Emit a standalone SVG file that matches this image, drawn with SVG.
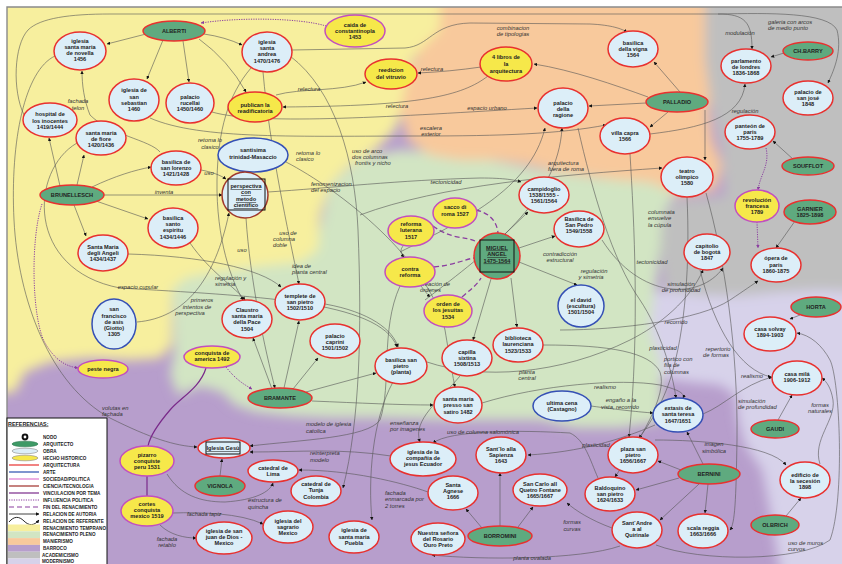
<svg xmlns="http://www.w3.org/2000/svg" width="842" height="564" viewBox="0 0 842 564">
<style>
.arq ellipse,.arq circle{fill:#5FAA7F;stroke:#E8312F;stroke-width:1.5}
.obra ellipse{fill:#DCEEF8;stroke:#E8312F;stroke-width:1.5}
.arte ellipse{fill:#DCEEF8;stroke:#3550B5;stroke-width:1.5}
.hecho ellipse{fill:#F6E84A;stroke:#C24FBE;stroke-width:1.5}
.hechor ellipse{fill:#F6E84A;stroke:#E8312F;stroke-width:1.5}
.cien circle{fill:#DCEEF8;stroke:#A0392B;stroke-width:1.5}
text{font-family:"Liberation Sans",Arial,sans-serif}
.n text{font-size:5.6px;font-weight:bold;text-anchor:middle;fill:#222}
.u{text-decoration:underline}
.c{fill:none;stroke:#555;stroke-width:0.6}
.pd{fill:none;stroke:#8B3FA0;stroke-width:1;stroke-dasharray:1.2 1.2}
.pdash{fill:none;stroke:#8B3FA0;stroke-width:1.3;stroke-dasharray:5 3}
.pv{fill:none;stroke:#7A2A8A;stroke-width:1.2}
.l{font-size:5.8px;font-style:italic;fill:#333}
.m{text-anchor:middle}
.lg{font-size:4.6px;font-weight:bold;fill:#222}
</style>
<defs>
<marker id="ar" viewBox="0 0 6 6" refX="5.5" refY="3" markerWidth="3.5" markerHeight="3.5" markerUnits="userSpaceOnUse" orient="auto"><path d="M0,0 L6,3 L0,6 z" fill="#111"/></marker>
<marker id="ap" viewBox="0 0 6 6" refX="5.5" refY="3" markerWidth="3.5" markerHeight="3.5" markerUnits="userSpaceOnUse" orient="auto"><path d="M0,0 L6,3 L0,6 z" fill="#8B3FA0"/></marker>
<filter id="bl" x="-20" y="-20" width="900" height="620" filterUnits="userSpaceOnUse"><feGaussianBlur stdDeviation="6"/></filter>
<clipPath id="fr"><rect x="7" y="7" width="835" height="557"/></clipPath>
</defs>
<rect width="842" height="564" fill="#fff"/>
<g id="background" clip-path="url(#fr)">
<rect x="7" y="7" width="835" height="557" fill="#B79ECC"/>
<g filter="url(#bl)">
<path fill="#D7D2EA" d="M630,292 L870,285 L870,600 L785,600 L775,540 L768,500 L762,470 L745,445 L738,420 L735,395 L720,385 L690,382 L660,378 L640,360 Z"/>
<path fill="#D2E5C3" d="M172,280 L215,270 L262,264 L305,258 L320,230 L330,185 L360,158 L400,150 L440,152 L490,160 L540,170 L600,178 L640,180 L660,175 L680,190 L665,210 L660,250 L655,290 L650,330 L660,360 L662,400 L660,422 L620,428 L575,428 L540,420 L460,420 L380,418 L330,418 L290,416 L255,412 L235,405 L222,392 L200,386 L178,395 L170,375 L175,350 Z"/>
<path fill="#F7EF9E" d="M-20,-20 L455,-20 L452,20 L430,40 L412,60 L405,100 L395,130 L375,150 L350,165 L330,185 L320,215 L318,250 L300,262 L260,266 L215,272 L185,278 L172,290 L172,345 L160,358 L130,360 L90,358 L50,362 L25,372 L15,392 L-20,395 Z"/>
<path fill="#F8C99C" d="M440,-20 L720,-20 L712,20 L705,50 L715,80 L708,110 L712,140 L722,165 L715,190 L680,195 L650,182 L620,180 L590,176 L560,172 L530,165 L495,160 L460,160 L430,155 L408,140 L400,110 L408,75 L420,50 L440,30 Z"/>
<path fill="#BFBFBF" d="M705,-20 L870,-20 L870,292 L820,290 L780,292 L740,296 L700,295 L665,290 L660,250 L662,215 L678,200 L725,196 L722,150 L712,110 L705,60 Z"/>
</g>
</g>
<path d="M7,564 L7,7 L842,7" fill="none" stroke="#8a8a8a" stroke-width="1.4"/>

<g id="connectors">
<path class="c" marker-end="url(#ar)" d="M146,34 L107,44"/>
<path class="c" marker-end="url(#ar)" d="M163,40 L147,79"/>
<path class="c" marker-end="url(#ar)" d="M183,41 L189,82"/>
<path class="c" marker-end="url(#ar)" d="M204,34 Q225,37 242,45"/>
<path class="c" marker-end="url(#ar)" d="M199,39 Q228,60 246,92"/>
<path class="pd" marker-end="url(#ap)" d="M326,26 C300,18 240,17 201,23"/>
<path class="c" marker-end="url(#ar)" d="M24,115 C12,90 14,45 28,30 C40,18 70,14 110,14 L718,14 C745,14 752,22 752,49"/>
<path class="c" marker-end="url(#ar)" d="M718,14 C770,13 828,12 837,30 C842,50 835,68 828,83"/>
<path class="c" marker-end="url(#ar)" d="M55,56 C25,70 10,140 14,220 C18,300 50,385 110,418 C150,438 175,446 197,447"/>
<path class="c" marker-end="url(#ar)" d="M488,76 C462,96 420,106 283,107"/>
<path class="c" marker-end="url(#ar)" d="M276,95 C300,88 340,92 366,82"/>
<path class="c" marker-end="url(#ar)" d="M481,67 C460,70 440,72 418,73"/>
<path class="c" marker-end="url(#ar)" d="M292,50 L405,48 C430,46 432,24 470,23 L590,24 C612,25 622,29 627,32"/>
<path class="c" marker-end="url(#ar)" d="M648,97 C615,85 572,70 534,64"/>
<path class="c" marker-end="url(#ar)" d="M646,103 L589,106"/>
<path class="c" marker-end="url(#ar)" d="M680,92 L654,62"/>
<path class="c" marker-end="url(#ar)" d="M668,112 L650,127"/>
<path class="c" marker-end="url(#ar)" d="M705,110 L705,160"/>
<path class="c" marker-end="url(#ar)" d="M650,134 C700,128 742,118 745,84"/>
<path class="c" marker-end="url(#ar)" d="M784,53 L771,57"/>
<path class="c" marker-end="url(#ar)" d="M794,160 L773,141"/>
<path class="pd" marker-end="url(#ap)" d="M766,148 C770,165 760,175 758,190"/>
<path class="pd" marker-end="url(#ap)" d="M757,222 L758,248"/>
<path class="c" marker-end="url(#ar)" d="M795,221 L776,248"/>
<path class="c" marker-end="url(#ar)" d="M800,315 L790,319"/>
<path class="c" marker-end="url(#ar)" d="M778,420 L792,395"/>
<path class="c" marker-end="url(#ar)" d="M786,516 L801,498"/>
<path class="c" marker-end="url(#ar)" d="M703,464 L687,432"/>
<path class="c" marker-end="url(#ar)" d="M681,470 L658,461"/>
<path class="c" marker-end="url(#ar)" d="M679,478 L636,490"/>
<path class="c" marker-end="url(#ar)" d="M699,484 L660,520"/>
<path class="c" marker-end="url(#ar)" d="M708,484 L705,513"/>
<path class="c" marker-end="url(#ar)" d="M500,526 L500,473"/>
<path class="c" marker-end="url(#ar)" d="M482,528 L466,509"/>
<path class="c" marker-end="url(#ar)" d="M518,527 L533,507"/>
<path class="c" marker-end="url(#ar)" d="M505,234 L528,212"/>
<path class="c" marker-end="url(#ar)" d="M519,248 L555,236"/>
<path class="c" marker-end="url(#ar)" d="M519,262 L577,285"/>
<path class="c" marker-end="url(#ar)" d="M511,278 L517,327"/>
<path class="c" marker-end="url(#ar)" d="M491,279 L473,340"/>
<path class="pdash" d="M476,210 C490,213 497,222 498,233"/>
<path class="pdash" d="M433,226 C452,240 465,236 475,241"/>
<path class="pdash" d="M434,267 C455,265 466,259 474,258"/>
<path class="pdash" d="M462,297 C470,290 477,285 481,278"/>
<path class="c" marker-end="url(#ar)" d="M404,245 C399,250 401,254 404,257"/>
<path class="c" marker-end="url(#ar)" d="M421,286 C425,291 427,294 430,297"/>
<path class="c" marker-end="url(#ar)" d="M96,201 L148,219"/>
<path class="c" marker-end="url(#ar)" d="M74,205 L86,236"/>
<path class="c" marker-end="url(#ar)" d="M104,195 L222,195"/>
<path class="c" marker-end="url(#ar)" d="M77,185 L84,155"/>
<path class="c" marker-end="url(#ar)" d="M60,186 L49,138"/>
<path class="c" marker-end="url(#ar)" d="M92,187 C115,176 135,170 151,167"/>
<path class="pd" marker-end="url(#ap)" d="M42,204 C30,240 32,320 45,343 C55,360 65,366 78,368"/>
<path class="c" marker-end="url(#ar)" d="M201,170 C212,172 220,175 226,179"/>
<path class="c" marker-end="url(#ar)" d="M137,322 C185,318 215,280 229,213"/>
<path class="c" marker-end="url(#ar)" d="M77,143 C30,170 25,270 120,288 C250,296 380,300 397,347"/>
<path class="c" marker-end="url(#ar)" d="M128,254 C200,256 260,268 281,287"/>
<path class="c" marker-end="url(#ar)" d="M190,243 C210,272 236,288 245,300"/>
<path class="c" marker-end="url(#ar)" d="M325,304 C370,312 393,330 398,347"/>
<path class="c" marker-end="url(#ar)" d="M263,72 C270,150 288,230 299,284"/>
<path class="c" marker-end="url(#ar)" d="M251,68 C228,95 218,130 217,180 C216,240 232,282 243,300"/>
<path class="c" marker-end="url(#ar)" d="M246,218 C250,280 265,350 275,388"/>
<path class="c" marker-end="url(#ar)" d="M272,389 L253,338"/>
<path class="c" marker-end="url(#ar)" d="M284,388 L299,321"/>
<path class="c" marker-end="url(#ar)" d="M293,389 L318,358"/>
<path class="c" marker-end="url(#ar)" d="M306,392 L376,373"/>
<path class="c" marker-end="url(#ar)" d="M312,401 C360,403 400,405 433,405"/>
<path class="pd" marker-end="url(#ap)" d="M226,367 C236,380 245,385 252,389"/>
<path class="pv" d="M206,368 C200,388 180,398 170,410 C158,424 150,436 148,446"/>
<path class="pv" d="M147,476 L147,496"/>
<path class="c" marker-end="url(#ar)" d="M167,474 C180,495 200,502 225,502 C255,500 270,492 273,483"/>
<path class="c" marker-end="url(#ar)" d="M173,513 C200,512 240,513 263,524"/>
<path class="c" marker-end="url(#ar)" d="M160,525 C170,535 185,538 196,538"/>
<path class="c" marker-end="url(#ar)" d="M220,476 L222,459"/>
<path class="c" marker-end="url(#ar)" d="M391,456 C340,448 300,452 250,452"/>
<path class="c" marker-end="url(#ar)" d="M400,286 C380,330 392,385 380,420 C368,438 300,440 250,446"/>
<path class="c" marker-end="url(#ar)" d="M290,56 C335,90 355,160 358,230 C362,330 360,420 343,488"/>
<path class="c" marker-end="url(#ar)" d="M360,215 C440,185 560,175 662,168"/>
<path class="c" marker-end="url(#ar)" d="M268,192 C330,188 400,180 480,178 C505,178 515,180 521,182"/>
<path class="c" marker-end="url(#ar)" d="M400,252 C460,222 530,190 545,128"/>
<path class="c" marker-end="url(#ar)" d="M425,300 C490,250 558,200 562,128"/>
<path class="c" marker-end="url(#ar)" d="M602,240 C640,300 700,300 723,268"/>
<path class="c" marker-end="url(#ar)" d="M630,154 C634,220 640,330 629,437"/>
<path class="c" marker-end="url(#ar)" d="M687,197 C690,260 686,330 670,380 C660,410 645,430 639,438"/>
<path class="c" marker-end="url(#ar)" d="M560,330 C620,330 700,320 730,300 C745,290 752,285 758,281"/>
<path class="c" marker-end="url(#ar)" d="M598,478 C590,460 585,440 570,433 C520,430 450,430 433,443"/>
<path class="c" marker-end="url(#ar)" d="M655,425 C620,440 580,452 528,455"/>
<path class="c" marker-end="url(#ar)" d="M620,546 C580,560 480,560 432,555"/>
<path class="c" marker-end="url(#ar)" d="M612,528 C590,520 575,510 567,503"/>
<path class="c" marker-end="url(#ar)" d="M656,545 C700,562 800,562 830,540 C845,500 840,380 830,360 C822,345 810,335 797,333"/>
<path class="c" marker-end="url(#ar)" d="M820,464 C812,440 836,420 833,400 C831,388 827,382 822,378"/>
<path class="c" marker-end="url(#ar)" d="M655,440 C700,440 770,445 786,465"/>
<path class="c" marker-end="url(#ar)" d="M703,414 C725,405 742,385 772,377"/>
<path class="c" marker-end="url(#ar)" d="M482,403 C540,385 620,378 660,385 C680,390 685,394 683,398"/>
<path class="c" marker-end="url(#ar)" d="M591,406 C620,410 640,412 653,413"/>
<path class="c" marker-end="url(#ar)" d="M700,270 C715,330 740,370 771,377"/>
<path class="c" marker-end="url(#ar)" d="M706,193 C725,260 738,350 737,440 C736,500 735,524 730,530"/>
<path class="c" marker-end="url(#ar)" d="M543,345 C610,345 650,352 660,372 C668,395 640,440 615,477"/>
<path class="c" marker-end="url(#ar)" d="M460,376 C440,400 412,420 420,442"/>
<path class="c" marker-end="url(#ar)" d="M393,382 C372,420 368,480 372,520"/>
<path class="c" marker-end="url(#ar)" d="M286,162 C340,190 430,260 445,330 C450,360 453,378 455,387"/>
<path class="c" marker-end="url(#ar)" d="M428,492 C400,482 350,470 299,470"/>
<path class="c" marker-end="url(#ar)" d="M150,118 C200,140 300,136 420,136 C500,136 560,134 606,125"/>
<path class="c" marker-end="url(#ar)" d="M212,112 C260,126 400,116 537,108"/>
<path class="c" marker-end="url(#ar)" d="M160,152 C150,140 110,135 90,115 C84,100 82,85 82,71"/>
<path class="c" marker-end="url(#ar)" d="M578,128 C592,190 612,260 640,300 C660,330 672,370 676,398"/>
<path class="c" marker-end="url(#ar)" d="M427,362 C480,380 560,375 630,340 C660,325 690,300 703,270"/>
<g id="labels">
<text class="l m" x="513" y="30">combinacion</text><text class="l m" x="513" y="36">de tipologias</text>
<text class="l" x="768" y="24">galeria con arcos</text><text class="l" x="768" y="30">de medio punto</text>
<text class="l m" x="740" y="35">modulación</text>
<text class="l m" x="745" y="113">regulación</text>
<text class="l m" x="309" y="91">relectura</text>
<text class="l m" x="397" y="108">relectura</text>
<text class="l m" x="432" y="71">relectura</text>
<text class="l m" x="487" y="110">espacio urbano</text>
<text class="l m" x="431" y="130">escalera</text><text class="l m" x="431" y="136">exterior</text>
<text class="l m" x="78" y="103">fachada</text><text class="l m" x="78" y="110">telon</text>
<text class="l m" x="210" y="142">retoma lo</text><text class="l m" x="210" y="149">clasico</text>
<text class="l" x="296" y="155">retoma lo</text><text class="l" x="296" y="161">clasico</text>
<text class="l" x="352" y="153">uso de arco</text><text class="l" x="352" y="159">dos columnas</text><text class="l" x="355" y="165">frontis y nicho</text>
<text class="l" x="311" y="186">fenomenizacion</text><text class="l" x="311" y="192">del espacio</text>
<text class="l m" x="209" y="175">uso</text>
<text class="l m" x="164" y="194">inventa</text>
<text class="l m" x="446" y="184">tectonicidad</text>
<text class="l" x="548" y="165">arquitectura</text><text class="l" x="548" y="171">fuera de roma</text>
<text class="l m" x="138" y="289">espacio cupular</text>
<text class="l m" x="202" y="302">primeros</text><text class="l m" x="197" y="309">intentos de</text><text class="l m" x="190" y="315">perspectiva</text>
<text class="l m" x="288" y="235">uso de</text><text class="l m" x="284" y="241">columna</text><text class="l m" x="280" y="247">doble</text>
<text class="l m" x="242" y="252">uso</text>
<text class="l" x="292" y="268">idea de</text><text class="l" x="292" y="274">planta central</text>
<text class="l" x="215" y="280">regulación y</text><text class="l" x="215" y="286">simetria</text>
<text class="l" x="420" y="286">creación de</text><text class="l" x="420" y="292">órdenes</text>
<text class="l m" x="560" y="256">contradicción</text><text class="l m" x="560" y="262">estructural</text>
<text class="l m" x="594" y="273">regulación</text><text class="l m" x="591" y="279">y simetria</text>
<text class="l m" x="527" y="374">planta</text><text class="l m" x="527" y="380">central</text>
<text class="l" x="648" y="214">columnata</text><text class="l" x="648" y="220">envuelve</text><text class="l" x="648" y="227">la cúpula</text>
<text class="l m" x="652" y="264">tectonicidad</text>
<text class="l m" x="681" y="286">simulación</text><text class="l m" x="681" y="292">de profundidad</text>
<text class="l m" x="676" y="324">recorrido</text>
<text class="l m" x="663" y="350">plasticidad</text>
<text class="l" x="664" y="361">portico con</text><text class="l" x="664" y="367">fila de</text><text class="l" x="664" y="374">columnas</text>
<text class="l m" x="718" y="351">repertorio</text><text class="l m" x="716" y="357">de formas</text>
<text class="l m" x="752" y="378">realismo</text>
<text class="l m" x="605" y="389">realismo</text>
<text class="l m" x="621" y="402">engaño a la</text><text class="l m" x="620" y="409">vista, recorrido</text>
<text class="l" x="738" y="403">simulación</text><text class="l" x="738" y="409">de profundidad</text>
<text class="l m" x="820" y="407">formas</text><text class="l m" x="820" y="413">naturales</text>
<text class="l m" x="714" y="446">imagen</text><text class="l m" x="714" y="453">simbólica</text>
<text class="l m" x="596" y="447">plasticidad</text>
<text class="l m" x="483" y="434">uso de columna salomónica</text>
<text class="l" x="390" y="425">enseñanza</text><text class="l" x="390" y="431">por imagenes</text>
<text class="l" x="306" y="426">modelo de iglesia</text><text class="l" x="306" y="433">catolica</text>
<text class="l" x="310" y="455">reinterpreta</text><text class="l" x="310" y="462">modelo</text>
<text class="l" x="248" y="502">estructura de</text><text class="l" x="248" y="509">quincha</text>
<text class="l" x="385" y="495">fachada</text><text class="l" x="385" y="501">enmarcada por</text><text class="l" x="385" y="508">2 torres</text>
<text class="l" x="187" y="516">fachada tapiz</text>
<text class="l m" x="167" y="541">fachada</text><text class="l m" x="167" y="547">retablo</text>
<text class="l" x="102" y="410">volutas en</text><text class="l" x="102" y="416">fachada</text>
<text class="l m" x="572" y="524">formas</text><text class="l m" x="572" y="531">curvas</text>
<text class="l m" x="532" y="560">planta ovalada</text>
<text class="l" x="788" y="545">uso de muros</text><text class="l" x="788" y="551">curvos</text>
</g>
</g>

<g id="nodes">
<g id="alberti" class="n arq"><ellipse cx="174" cy="31" rx="31" ry="10"/><text x="174" y="33">ALBERTI</text></g>
<g id="brunellesch" class="n arq"><ellipse cx="72" cy="195" rx="32" ry="10"/><text x="72" y="197">BRUNELLESCH</text></g>
<g id="bramante" class="n arq"><ellipse cx="280" cy="398" rx="32" ry="10"/><text x="280" y="400">BRAMANTE</text></g>
<g id="vignola" class="n arq"><ellipse cx="220" cy="486" rx="25" ry="10"/><text x="220" y="488">VIGNOLA</text></g>
<g id="palladio" class="n arq"><ellipse cx="677" cy="102" rx="31" ry="10"/><text x="677" y="104">PALLADIO</text></g>
<g id="chbarry" class="n arq"><ellipse cx="808" cy="51" rx="25" ry="9"/><text x="808" y="53">CH.BARRY</text></g>
<g id="soufflot" class="n arq"><ellipse cx="808" cy="166" rx="26" ry="9"/><text x="808" y="168">SOUFFLOT</text></g>
<g id="garnier" class="n arq"><ellipse cx="810" cy="212" rx="26" ry="12"/><text x="810" y="210.5">GARNIER</text><text x="810" y="216.5">1825-1898</text></g>
<g id="horta" class="n arq"><ellipse cx="816" cy="307" rx="25" ry="10"/><text x="816" y="309">HORTA</text></g>
<g id="gaudi" class="n arq"><ellipse cx="775" cy="429" rx="24" ry="9"/><text x="775" y="431">GAUDI</text></g>
<g id="bernini" class="n arq"><ellipse cx="709" cy="474" rx="31" ry="10"/><text x="709" y="476">BERNINI</text></g>
<g id="olbrich" class="n arq"><ellipse cx="775" cy="525" rx="24" ry="10"/><text x="775" y="527">OLBRICH</text></g>
<g id="borromini" class="n arq"><ellipse cx="500" cy="536" rx="32" ry="10"/><text x="500" y="538">BORROMINI</text></g>
<g id="miguelangel" class="n arq"><circle cx="497" cy="256" r="23"/><rect x="480" y="240" width="34" height="32" fill="none" stroke="#111" stroke-width="1"/><text class="u" x="497" y="249.5">MIGUEL</text><text class="u" x="497" y="256">ANGEL</text><text class="u" x="497" y="262.5">1475-1564</text></g>

<g id="novella" class="n obra"><ellipse cx="80" cy="51" rx="26" ry="19"/><text x="80" y="43">iglesia</text><text x="80" y="49">santa maria</text><text x="80" y="55">de novella</text><text x="80" y="61">1456</text></g>
<g id="sansebastian" class="n obra"><ellipse cx="134" cy="100" rx="25" ry="21"/><text x="134" y="92">iglesia de</text><text x="134" y="98.5">san</text><text x="134" y="105">sebastian</text><text x="134" y="111">1460</text></g>
<g id="rucellai" class="n obra"><ellipse cx="190" cy="103" rx="24" ry="20"/><text x="190" y="99">palacio</text><text x="190" y="105">rucellai</text><text x="190" y="111">1450/1460</text></g>
<g id="hospital" class="n obra"><ellipse cx="50" cy="120" rx="27" ry="17"/><text x="50" y="116">hospital de</text><text x="50" y="122.5">los inocentes</text><text x="50" y="129">1419/1444</text></g>
<g id="fiore" class="n obra"><ellipse cx="101" cy="138" rx="25" ry="17"/><text x="101" y="135">santa maria</text><text x="101" y="141">de fiore</text><text x="101" y="147">1420/1436</text></g>
<g id="sanlorenzo" class="n obra"><ellipse cx="176" cy="168" rx="25" ry="17"/><text x="176" y="164">basilica de</text><text x="176" y="170">san lorenzo</text><text x="176" y="176">1421/1428</text></g>
<g id="santaandrea" class="n obra"><ellipse cx="267" cy="52" rx="25" ry="20"/><text x="267" y="44">iglesia</text><text x="267" y="50">santa</text><text x="267" y="56">andrea</text><text x="267" y="62.5">1470/1476</text></g>
<g id="santoespiritu" class="n obra"><ellipse cx="173" cy="228" rx="25" ry="20"/><text x="173" y="220">basilica</text><text x="173" y="226">santo</text><text x="173" y="232">espiritu</text><text x="173" y="239">1434/1446</text></g>
<g id="angeli" class="n obra"><ellipse cx="103" cy="253" rx="25" ry="18"/><text x="103" y="249">Santa Maria</text><text x="103" y="255">degli Angeli</text><text x="103" y="261">1434/1437</text></g>
<g id="vigna" class="n obra"><ellipse cx="633" cy="49" rx="25" ry="18"/><text x="633" y="45">basilica</text><text x="633" y="51">della vigna</text><text x="633" y="57">1564</text></g>
<g id="ragione" class="n obra"><ellipse cx="563" cy="108" rx="25" ry="20"/><text x="563" y="105">palacio</text><text x="563" y="111">della</text><text x="563" y="117">ragione</text></g>
<g id="villacapra" class="n obra"><ellipse cx="625" cy="136" rx="25" ry="18"/><text x="625" y="135">villa capra</text><text x="625" y="141">1566</text></g>
<g id="parlamento" class="n obra"><ellipse cx="746" cy="66" rx="25" ry="17"/><text x="746" y="63">parlamento</text><text x="746" y="69">de londres</text><text x="746" y="75">1836-1868</text></g>
<g id="sanjose" class="n obra"><ellipse cx="808" cy="98" rx="25" ry="17"/><text x="808" y="94">palacio de</text><text x="808" y="100">san josé</text><text x="808" y="106">1848</text></g>
<g id="panteon" class="n obra"><ellipse cx="750" cy="132" rx="25" ry="17"/><text x="750" y="128">panteón  de</text><text x="750" y="134">paris</text><text x="750" y="140">1755-1789</text></g>
<g id="teatro" class="n obra"><ellipse cx="687" cy="177" rx="26" ry="20"/><text x="687" y="173">teatro</text><text x="687" y="179">olimpico</text><text x="687" y="185">1580</text></g>
<g id="capitolio" class="n obra"><ellipse cx="707" cy="252" rx="23" ry="18"/><text x="707" y="248">capitolio</text><text x="707" y="254">de bogotá</text><text x="707" y="260">1847</text></g>
<g id="opera" class="n obra"><ellipse cx="776" cy="265" rx="25" ry="17"/><text x="776" y="260">ópera de</text><text x="776" y="267">paris</text><text x="776" y="273">1860-1875</text></g>
<g id="solvay" class="n obra"><ellipse cx="770" cy="334" rx="26" ry="17"/><text x="770" y="331">casa solvay</text><text x="770" y="337">1894-1903</text></g>
<g id="mila" class="n obra"><ellipse cx="797" cy="378" rx="25" ry="17"/><text x="797" y="376">casa milá</text><text x="797" y="382">1906-1912</text></g>
<g id="campidoglio" class="n obra"><ellipse cx="544" cy="195" rx="25" ry="18"/><text x="544" y="191">campidoglio</text><text x="544" y="197">1538/1555  -</text><text x="544" y="203">1561/1564</text></g>
<g id="sanpedro" class="n obra"><ellipse cx="579" cy="229" rx="25" ry="18"/><text x="579" y="221">Basilica de</text><text x="579" y="227">San Pedro</text><text x="579" y="233">1549/1558</text></g>
<g id="biblioteca" class="n obra"><ellipse cx="518" cy="345" rx="25" ry="17"/><text x="518" y="340">biblioteca</text><text x="518" y="346">laurenciana</text><text x="518" y="353">1523/1533</text></g>
<g id="sixtina" class="n obra"><ellipse cx="467" cy="358" rx="25" ry="18"/><text x="467" y="354">capilla</text><text x="467" y="360">sixtina</text><text x="467" y="366">1508/1513</text></g>
<g id="templete" class="n obra"><ellipse cx="300" cy="302" rx="25" ry="18"/><text x="300" y="298">templete de</text><text x="300" y="304">san pietro</text><text x="300" y="310">1502/1510</text></g>
<g id="claustro" class="n obra"><ellipse cx="247" cy="319" rx="25" ry="19"/><text x="247" y="312">Claustro</text><text x="247" y="318">santa maria</text><text x="247" y="324">della Pace</text><text x="247" y="331">1504</text></g>
<g id="caprini" class="n obra"><ellipse cx="335" cy="341" rx="25" ry="17"/><text x="335" y="338">palacio</text><text x="335" y="344">caprini</text><text x="335" y="350">1501/1502</text></g>
<g id="sanpietroplanta" class="n obra"><ellipse cx="401" cy="366" rx="26" ry="18"/><text x="401" y="362">basilica san</text><text x="401" y="368">pietro</text><text x="401" y="374">(planta)</text></g>
<g id="satiro" class="n obra"><ellipse cx="458" cy="405" rx="24" ry="18"/><text x="458" y="401">santa maria</text><text x="458" y="407">presso san</text><text x="458" y="414">satiro 1482</text></g>
<g id="compania" class="n obra"><ellipse cx="423" cy="459" rx="33" ry="17"/><text x="423" y="454">iglesia de la</text><text x="423" y="460">compañia de</text><text x="423" y="466">jesus Ecuador</text></g>
<g id="gesu" class="n obra"><ellipse cx="224" cy="448" rx="26" ry="10"/><rect x="206" y="442" width="34" height="12" fill="none" stroke="#111" stroke-width="1"/><text class="u" x="223" y="450">Iglesia Gesù</text></g>
<g id="lima" class="n obra"><ellipse cx="273" cy="471" rx="25" ry="11"/><text x="273" y="470">catedral  de</text><text x="273" y="476">Lima</text></g>
<g id="tunja" class="n obra"><ellipse cx="316" cy="491" rx="25" ry="15"/><text x="316" y="486">catedral de</text><text x="316" y="492">Tunja</text><text x="316" y="499">Colombia</text></g>
<g id="sagrario" class="n obra"><ellipse cx="288" cy="527" rx="25" ry="16"/><text x="288" y="523">iglesia del</text><text x="288" y="529">sagrario</text><text x="288" y="535">Mexico</text></g>
<g id="sanjuan" class="n obra"><ellipse cx="224" cy="538" rx="28" ry="16"/><text x="224" y="533">iglesia de san</text><text x="224" y="539">juan de Dios -</text><text x="224" y="545">Mexico</text></g>
<g id="puebla" class="n obra"><ellipse cx="354" cy="537" rx="25" ry="16"/><text x="354" y="532">iglesia de</text><text x="354" y="539">santa maria</text><text x="354" y="545">Puebla</text></g>
<g id="santio" class="n obra"><ellipse cx="501" cy="455" rx="25" ry="18"/><text x="501" y="451">Sant`Io alla</text><text x="501" y="457">Sapienza</text><text x="501" y="463">1643</text></g>
<g id="agnese" class="n obra"><ellipse cx="453" cy="493" rx="25" ry="17"/><text x="453" y="487">Santa</text><text x="453" y="493">Agnese</text><text x="453" y="499">1666</text></g>
<g id="sancarlo" class="n obra"><ellipse cx="540" cy="490" rx="27" ry="16"/><text x="540" y="486">San Carlo all</text><text x="540" y="492">Quetro Fontane</text><text x="540" y="498">1665/1667</text></g>
<g id="rosario" class="n obra"><ellipse cx="438" cy="539" rx="27" ry="16"/><text x="438" y="535">Nuestra señora</text><text x="438" y="541">del Rosario</text><text x="438" y="547">Ouro Preto</text></g>
<g id="baldoquino" class="n obra"><ellipse cx="610" cy="494" rx="25" ry="17"/><text x="610" y="490">Baldoquino</text><text x="610" y="496">san pietro</text><text x="610" y="502">1624/1633</text></g>
<g id="plaza" class="n obra"><ellipse cx="633" cy="455" rx="25" ry="18"/><text x="633" y="451">plaza san</text><text x="633" y="457">pietro</text><text x="633" y="463">1656/1667</text></g>
<g id="santandrea" class="n obra"><ellipse cx="637" cy="530" rx="25" ry="18"/><text x="637" y="525">Sant`Andre</text><text x="637" y="531">a al</text><text x="637" y="537">Quirinale</text></g>
<g id="scalareggia" class="n obra"><ellipse cx="703" cy="531" rx="25" ry="17"/><text x="703" y="530">scala reggia</text><text x="703" y="536">1663/1666</text></g>
<g id="secesion" class="n obra"><ellipse cx="805" cy="480" rx="25" ry="18"/><text x="805" y="477">edificio de</text><text x="805" y="483">la secesión</text><text x="805" y="489">1898</text></g>

<g id="trinidad" class="n arte"><ellipse cx="253" cy="155" rx="35" ry="17"/><text x="253" y="152">santisima</text><text x="253" y="159">trinidad-Masaccio</text></g>
<g id="sanfrancisco" class="n arte"><ellipse cx="114" cy="324" rx="22" ry="25"/><text x="114" y="311">san</text><text x="114" y="318">francisco</text><text x="114" y="324">de asis</text><text x="114" y="330">(Giotto)</text><text x="114" y="336">1305</text></g>
<g id="david" class="n arte"><ellipse cx="581" cy="306" rx="23" ry="21"/><text x="581" y="302">el david</text><text x="581" y="308">(escultura)</text><text x="581" y="314">1501/1504</text></g>
<g id="ultimacena" class="n arte"><ellipse cx="562" cy="406" rx="29" ry="15"/><text x="562" y="405">ultima cena</text><text x="562" y="411">(Castagno)</text></g>
<g id="extasis" class="n arte"><ellipse cx="678" cy="415" rx="25" ry="17"/><text x="678" y="410">extasis de</text><text x="678" y="416">santa teresa</text><text x="678" y="423">1647/1651</text></g>

<g id="perspectiva" class="n cien"><circle cx="245" cy="195" r="23"/><rect x="228" y="179" width="37" height="31" fill="none" stroke="#111" stroke-width="1"/><text class="u" x="246" y="188">perspectiva</text><text class="u" x="246" y="194">con</text><text class="u" x="246" y="201">metodo</text><text class="u" x="246" y="207">cientifico</text></g>

<g id="caida" class="n hecho"><ellipse cx="355" cy="31" rx="30" ry="16"/><text x="355" y="27">caida de</text><text x="355" y="33">constantinopla</text><text x="355" y="39">1453</text></g>
<g id="reedicion" class="n hechor"><ellipse cx="391" cy="74" rx="26" ry="15"/><text x="391" y="72">reedicion</text><text x="391" y="79">del vitruvio</text></g>
<g id="publican" class="n hechor"><ellipse cx="255" cy="107" rx="27" ry="15"/><text x="255" y="107">publican la</text><text x="255" y="113">readificatoria</text></g>
<g id="libros" class="n hechor"><ellipse cx="506" cy="64" rx="26" ry="17"/><text x="506" y="59">4 libros de</text><text x="506" y="66">la</text><text x="506" y="73">arquitectura</text></g>
<g id="revolucion" class="n hecho"><ellipse cx="757" cy="206" rx="22" ry="16"/><text x="757" y="202">revolución</text><text x="757" y="208">francesa</text><text x="757" y="214">1789</text></g>
<g id="sacco" class="n hecho"><ellipse cx="455" cy="213" rx="22" ry="15"/><text x="455" y="209">sacco di</text><text x="455" y="215.5">roma 1527</text></g>
<g id="luterana" class="n hecho"><ellipse cx="411" cy="231" rx="23" ry="15"/><text x="411" y="226">reforma</text><text x="411" y="232">luterana</text><text x="411" y="239">1517</text></g>
<g id="contrareforma" class="n hecho"><ellipse cx="410" cy="272" rx="25" ry="15"/><text x="410" y="271">contra</text><text x="410" y="277">reforma</text></g>
<g id="jesuitas" class="n hecho"><ellipse cx="448" cy="311" rx="24" ry="16"/><text x="448" y="306">orden de</text><text x="448" y="312">los jesuitas</text><text x="448" y="319">1534</text></g>
<g id="conquista" class="n hecho"><ellipse cx="212" cy="357" rx="28" ry="11"/><text x="212" y="355">conquista de</text><text x="212" y="361">america 1492</text></g>
<g id="peste" class="n hecho"><ellipse cx="103" cy="369" rx="25" ry="9"/><text x="103" y="371">peste negra</text></g>
<g id="pizarro" class="n hecho"><ellipse cx="147" cy="461" rx="27" ry="15"/><text x="147" y="457">pizarro</text><text x="147" y="463">conquiste</text><text x="147" y="469">peru 1531</text></g>
<g id="cortes" class="n hecho"><ellipse cx="147" cy="511" rx="26" ry="15"/><text x="147" y="506">cortes</text><text x="147" y="512">conquista</text><text x="147" y="518">mexico 1519</text></g>
</g>

<g id="legend">
<rect x="7" y="418" width="100" height="150" fill="#fff" stroke="#111" stroke-width="1"/>
<text x="8" y="425.5" class="u" style="font-size:5.4px;font-weight:bold;fill:#222">REFERENCIAS:</text>
<circle cx="25" cy="437" r="2.4" fill="#fff" stroke="#111" stroke-width="2"/>
<ellipse cx="25" cy="444" rx="13" ry="2.8" fill="#3E9A66" stroke="#2E7A50" stroke-width="0.6"/>
<ellipse cx="25" cy="451" rx="13" ry="2.8" fill="#DCEEF8" stroke="#888" stroke-width="0.6"/>
<ellipse cx="25" cy="458" rx="13" ry="2.8" fill="#F6E84A" stroke="#888" stroke-width="0.6"/>
<line x1="9" y1="465" x2="39" y2="465" stroke="#E8312F" stroke-width="1.2"/>
<line x1="9" y1="472" x2="39" y2="472" stroke="#2B4FB0" stroke-width="1.2"/>
<line x1="9" y1="479" x2="39" y2="479" stroke="#E07BD0" stroke-width="1.2"/>
<line x1="9" y1="486" x2="39" y2="486" stroke="#A0302A" stroke-width="1.2"/>
<line x1="9" y1="493" x2="39" y2="493" stroke="#7A2A8A" stroke-width="1.2"/>
<line x1="9" y1="500" x2="39" y2="500" stroke="#8B3FA0" stroke-width="1" stroke-dasharray="1.2 1.2"/>
<line x1="9" y1="507" x2="39" y2="507" stroke="#8B3FA0" stroke-width="1.2" stroke-dasharray="5 3"/>
<line x1="9" y1="514" x2="39" y2="514" stroke="#111" stroke-width="0.8" marker-end="url(#ar)"/>
<path d="M9,522 C14,516 19,516 24,521 C29,526 34,526 39,520" fill="none" stroke="#111" stroke-width="0.9" marker-end="url(#ar)"/>
<rect x="8" y="524.5" width="32" height="6.8" fill="#F7EF9E"/>
<rect x="8" y="531.3" width="32" height="6.8" fill="#D2E5C3"/>
<rect x="8" y="538.1" width="32" height="6.8" fill="#F8C99C"/>
<rect x="8" y="544.9" width="32" height="6.8" fill="#B79ECC"/>
<rect x="8" y="551.7" width="32" height="6.8" fill="#BFBFBF"/>
<rect x="8" y="558.5" width="32" height="6" fill="#D7D2EA"/>
<text class="lg" x="43" y="439">NODO</text>
<text class="lg" x="43" y="446">ARQUITECTO</text>
<text class="lg" x="43" y="453">OBRA</text>
<text class="lg" x="43" y="460">HECHO HISTORICO</text>
<text class="lg" x="43" y="467">ARQUITECTURA</text>
<text class="lg" x="43" y="474">ARTE</text>
<text class="lg" x="43" y="481">SOCIEDAD/POLITICA</text>
<text class="lg" x="43" y="488">CIENCIA/TECNOLOGIA</text>
<text class="lg" x="43" y="495">VINCULACION POR TEMA</text>
<text class="lg" x="43" y="502">INFLUENCIA POLITICA</text>
<text class="lg" x="43" y="509">FIN DEL RENACIMIENTO</text>
<text class="lg" x="43" y="516">RELACION DE AUTORIA</text>
<text class="lg" x="43" y="523">RELACION DE REFERENTE</text>
<text class="lg" x="43" y="529.5">RENACIMIENTO TEMPRANO</text>
<text class="lg" x="43" y="536.3">RENACIMIENTO PLENO</text>
<text class="lg" x="43" y="543.1">MANIERISMO</text>
<text class="lg" x="43" y="549.9">BARROCO</text>
<text class="lg" x="42" y="556.7">ACADEMICISMO</text>
<text class="lg" x="42" y="562.6">MODERNISMO</text>
</g>
</svg>
